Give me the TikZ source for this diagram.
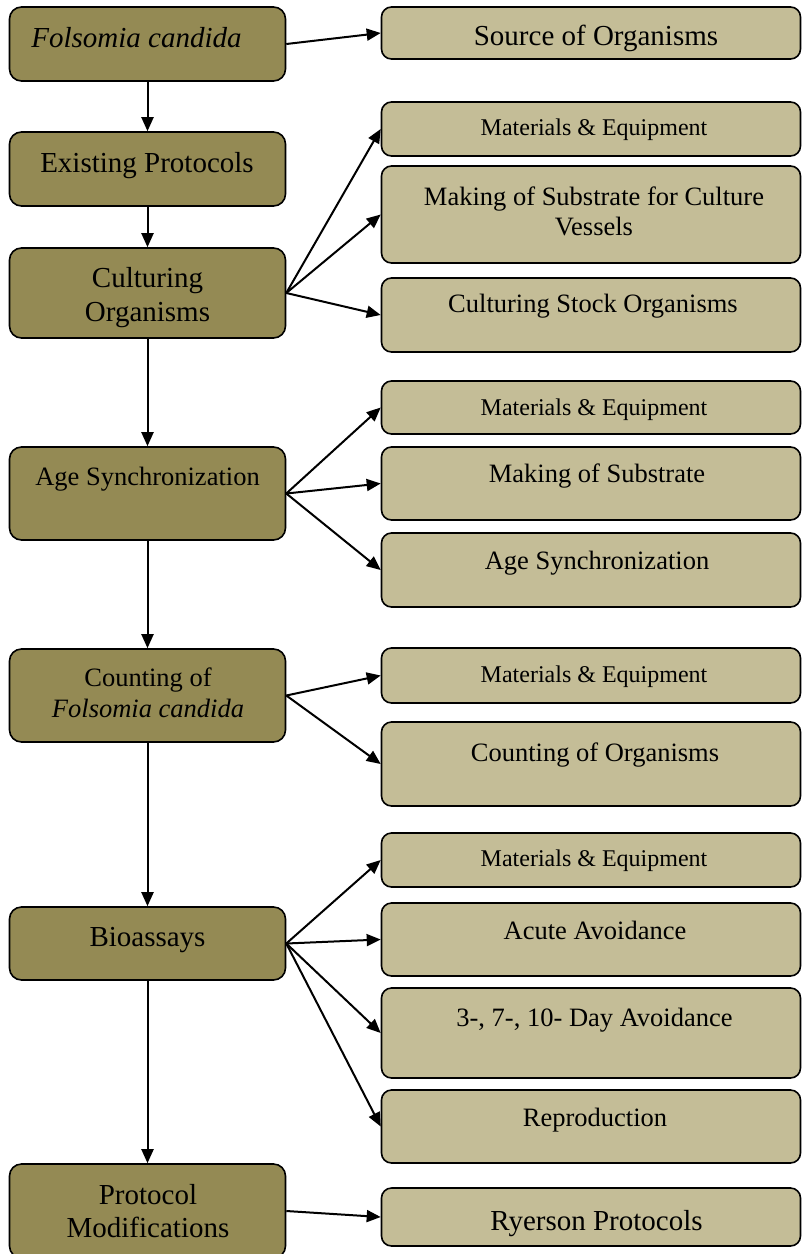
\documentclass[tikz,border=0pt]{standalone}
\usepackage{fontspec}
\setmainfont{Liberation Serif}
\usetikzlibrary{arrows.meta}
\definecolor{olivedark}{HTML}{948A54}
\definecolor{tanlight}{HTML}{C4BD97}
\newcommand\fontbig{\fontsize{29}{33}\selectfont}
\newcommand\fontmid{\fontsize{26.5}{30}\selectfont}
\newcommand\fontsml{\fontsize{24}{28}\selectfont}

\begin{document}
\begin{tikzpicture}[x=1pt,y=-1pt,
  stage/.style={draw=black, line width=1.6pt, fill=olivedark, rounded corners=12pt,
                minimum width=276pt, inner sep=0pt},
  task/.style={draw=black, line width=1.6pt, fill=tanlight, rounded corners=10pt,
               minimum width=419pt, inner sep=0pt},
  lbl/.style={anchor=base, inner sep=0pt, text=black},
  link/.style={line width=2pt, -{Triangle[length=14pt,width=12pt]}},
]
\fill[white] (0,0) rectangle (802,1254);
\useasboundingbox (0,0) rectangle (802,1254);

% main stages (left column)
\node[stage, minimum height=74pt] (fc) at (147.5,44) {};
\node[lbl, font=\fontbig\itshape] (fc-t) at (136.5,47) {Folsomia candida};
\node[stage, minimum height=74pt] (ep) at (147.5,169) {};
\node[lbl, font=\fontbig] (ep-t) at (147,172) {Existing Protocols};
\node[stage, minimum height=90pt] (co) at (147.5,293) {};
\node[lbl, font=\fontbig] (co-t1) at (147.5,287.5) {Culturing};
\node[lbl, font=\fontbig] (co-t2) at (147.5,321) {Organisms};
\node[stage, minimum height=93pt] (as) at (147.5,493.5) {};
\node[lbl, font=\fontmid] (as-t) at (147.5,485) {Age Synchronization};
\node[stage, minimum height=93pt] (cf) at (147.5,695.5) {};
\node[lbl, font=\fontmid] (cf-t1) at (148,686.5) {Counting of};
\node[lbl, font=\fontmid\itshape] (cf-t2) at (148,717.5) {Folsomia candida};
\node[stage, minimum height=73pt] (bi) at (147.5,943.5) {};
\node[lbl, font=\fontbig] (bi-t) at (147.5,946.5) {Bioassays};
\node[stage, minimum height=94pt] (pm) at (147.5,1211) {};
\node[lbl, font=\fontbig] (pm-t1) at (148,1204) {Protocol};
\node[lbl, font=\fontbig] (pm-t2) at (148,1237) {Modifications};

% detail steps (right column)
\node[task, minimum height=52pt] (so) at (591,33) {};
\node[lbl, font=\fontbig] (so-t) at (596,45.7) {Source of Organisms};

\node[task, minimum height=54pt] (me1) at (591,129) {};
\node[lbl, font=\fontsml] (me1-t) at (594,135) {Materials \& Equipment};
\node[task, minimum height=97pt] (msc) at (591,214.5) {};
\node[lbl, font=\fontmid] (msc-t1) at (594,205) {Making of Substrate for Culture};
\node[lbl, font=\fontmid] (msc-t2) at (594,235) {Vessels};
\node[task, minimum height=74pt] (cso) at (591,315) {};
\node[lbl, font=\fontmid] (cso-t) at (593,312.7) {Culturing Stock Organisms};

\node[task, minimum height=53pt] (me2) at (591,407.5) {};
\node[lbl, font=\fontsml] (me2-t) at (594,415) {Materials \& Equipment};
\node[task, minimum height=73pt] (ms) at (591,483.5) {};
\node[lbl, font=\fontmid] (ms-t) at (597,482.7) {Making of Substrate};
\node[task, minimum height=74pt] (asr) at (591,570) {};
\node[lbl, font=\fontmid] (asr-t) at (597,569.3) {Age Synchronization};

\node[task, minimum height=55pt] (me3) at (591,675.5) {};
\node[lbl, font=\fontsml] (me3-t) at (594,682) {Materials \& Equipment};
\node[task, minimum height=84pt] (cor) at (591,764) {};
\node[lbl, font=\fontmid] (cor-t) at (595,761) {Counting of Organisms};

\node[task, minimum height=54pt] (me4) at (591,860) {};
\node[lbl, font=\fontsml] (me4-t) at (594,866) {Materials \& Equipment};
\node[task, minimum height=73pt] (aa) at (591,939.5) {};
\node[lbl, font=\fontmid] (aa-t) at (595,939) {Acute Avoidance};
\node[task, minimum height=90pt] (d3) at (591,1033) {};
\node[lbl, font=\fontmid] (d3-t) at (594.5,1026.7) {3-, 7-, 10- Day Avoidance};
\node[task, minimum height=73pt] (rep) at (591,1126.5) {};
\node[lbl, font=\fontmid] (rep-t) at (595,1126) {Reproduction};

\node[task, minimum height=58pt] (rp) at (591,1217) {};
\node[lbl, font=\fontbig] (rp-t) at (596.5,1230) {Ryerson Protocols};

% connectors
\draw[link] (fc.east) -- (so.west);
\draw[link] (fc.south) -- (ep.north);
\draw[link] (ep.south) -- (co.north);
\draw[link] (co.east) -- (me1.west);
\draw[link] (co.east) -- (msc.west);
\draw[link] (co.east) -- (cso.west);
\draw[link] (co.south) -- (as.north);
\draw[link] (as.east) -- (me2.west);
\draw[link] (as.east) -- (ms.west);
\draw[link] (as.east) -- (asr.west);
\draw[link] (as.south) -- (cf.north);
\draw[link] (cf.east) -- (me3.west);
\draw[link] (cf.east) -- (cor.west);
\draw[link] (cf.south) -- (bi.north);
\draw[link] (bi.east) -- (me4.west);
\draw[link] (bi.east) -- (aa.west);
\draw[link] (bi.east) -- (d3.west);
\draw[link] (bi.east) -- (rep.west);
\draw[link] (bi.south) -- (pm.north);
\draw[link] (pm.east) -- (rp.west);
\end{tikzpicture}
\end{document}
